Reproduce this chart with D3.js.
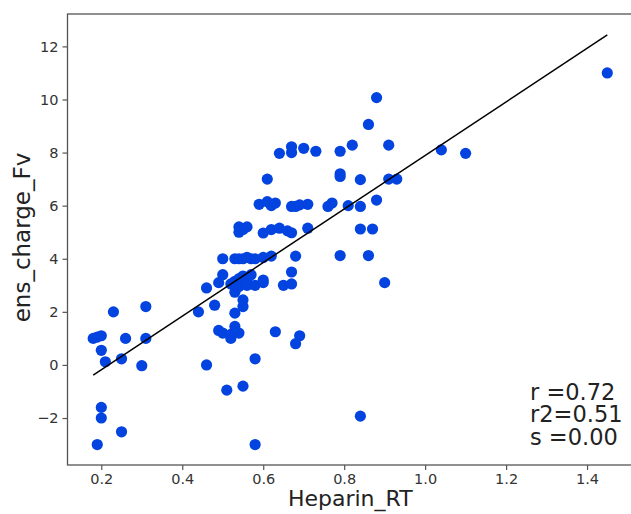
<!DOCTYPE html>
<html>
<head>
<meta charset="utf-8">
<script src="https://cdn.jsdelivr.net/npm/d3@7"></script>
<style>
  html, body { margin: 0; padding: 0; background: #fff; }
  svg { display: block; font-family: "DejaVu Sans", sans-serif; }
</style>
</head>
<body>
<svg id="chart" width="631" height="514"></svg>
<script>
// ---- data ----
const heparinRT = [
  0.18, 0.19, 0.20, 0.20, 0.21, 0.23, 0.25, 0.26, 0.30, 0.31, 0.31,
  0.20, 0.20, 0.25, 0.19,
  0.44, 0.46, 0.46, 0.48, 0.49, 0.50, 0.50, 0.49, 0.50, 0.52, 0.52, 0.53, 0.54,
  0.51, 0.55, 0.58, 0.58,
  0.53, 0.55, 0.55, 0.53, 0.52, 0.53, 0.54, 0.54, 0.55, 0.55, 0.56, 0.57, 0.56,
  0.53, 0.54, 0.55, 0.56, 0.57, 0.58, 0.60, 0.62,
  0.58, 0.60, 0.60,
  0.65, 0.67, 0.67, 0.68,
  0.63, 0.68, 0.69,
  0.54, 0.55, 0.56, 0.54,
  0.60, 0.62, 0.64, 0.66, 0.67, 0.71,
  0.59, 0.61, 0.62, 0.63, 0.67, 0.68, 0.69, 0.71,
  0.61,
  0.64, 0.67, 0.67, 0.70, 0.73,
  0.76, 0.77, 0.81, 0.84, 0.88,
  0.79, 0.82, 0.86, 0.88, 0.91,
  0.79, 0.79, 0.84, 0.91, 0.93,
  0.84, 0.87,
  0.79, 0.86,
  0.90,
  0.84,
  1.04, 1.10, 1.45
];
const ensChargeFv = [
  1.0, 1.05, 1.1, 0.55, 0.12, 2.0, 0.23, 1.0, -0.03, 1.0, 2.2,
  -1.6, -2.0, -2.52, -3.0,
  2.0, 0.0, 2.9, 2.25, 3.1, 3.4, 4.0, 1.3, 1.2, 1.0, 1.15, 1.45, 1.2,
  -0.95, -0.8, 0.23, -3.0,
  1.95, 2.2, 2.45, 2.74, 3.05, 3.15, 2.95, 3.25, 3.05, 3.35, 3.15, 3.4, 3.0,
  4.0, 4.0, 4.0, 4.05, 4.0, 4.0, 4.05, 4.1,
  3.0, 3.1, 3.2,
  3.0, 3.05, 3.5, 4.1,
  1.25, 0.8, 1.1,
  5.2, 5.1, 5.2, 5.0,
  4.97, 5.1, 5.15, 5.05, 4.98, 5.15,
  6.05, 6.15, 6.0, 6.1, 5.97, 5.97, 6.03, 6.05,
  7.0,
  7.97, 8.22, 8.0, 8.16, 8.05,
  5.97, 6.1, 6.0, 5.97, 6.21,
  8.05, 8.28, 9.06, 10.07, 8.28,
  7.2, 7.1, 6.98, 7.0, 7.0,
  5.12, 5.12,
  4.12, 4.12,
  3.1,
  -1.93,
  8.1, 7.97, 11.0
];
const fitX = [0.18, 1.45];
const fitY = [-0.38, 12.43];
const xTicks = [0.2, 0.4, 0.6, 0.8, 1.0, 1.2, 1.4];
const yTicks = [-2, 0, 2, 4, 6, 8, 10, 12];
const statLines = ["r =0.72", "r2=0.51", "s =0.00"];
const xLabel = "Heparin_RT";
const yLabel = "ens_charge_Fv";

// ---- drawing ----
(function () {
const svg = d3.select("#chart");
const mLeft = 67.5, mRight = 633, mTop = 14, mBottom = 465;
const x = d3.scaleLinear().domain([0.1165, 1.5135]).range([mLeft, mRight]);
const y = d3.scaleLinear().domain([-3.77, 13.22]).range([mBottom, mTop]);

const spineColor = "#555";
const tickColor = "#333";

const xAxis = d3.axisBottom(x).tickValues(xTicks).tickFormat(d3.format(".1f")).tickSize(5).tickPadding(4);
const yAxis = d3.axisLeft(y).tickValues(yTicks).tickFormat(d => d < 0 ? "\u2212" + Math.abs(d) : d).tickSize(5).tickPadding(4);

const gx = svg.append("g").attr("transform", `translate(0,${mBottom})`).call(xAxis);
const gy = svg.append("g").attr("transform", `translate(${mLeft},0)`).call(yAxis);
[gx, gy].forEach(g => {
  g.select(".domain").remove();
  g.selectAll(".tick line").attr("stroke", spineColor).attr("stroke-width", 1.2);
  g.selectAll(".tick text").attr("fill", tickColor).style("font-size", "14.5px").style("font-family", "DejaVu Sans, sans-serif");
});

svg.append("rect")
  .attr("x", mLeft).attr("y", mTop)
  .attr("width", mRight - mLeft).attr("height", mBottom - mTop)
  .attr("fill", "none").attr("stroke", spineColor).attr("stroke-width", 1.3);

const pts = heparinRT.map((v, i) => [v, ensChargeFv[i]]);
svg.append("g").selectAll("circle").data(pts).join("circle")
  .attr("cx", d => x(d[0])).attr("cy", d => y(d[1]))
  .attr("r", 5.6).attr("fill", "#0343df");

svg.append("path")
  .datum(fitX.map((v, i) => [v, fitY[i]]))
  .attr("d", d3.line().x(d => x(d[0])).y(d => y(d[1])))
  .attr("stroke", "#000").attr("stroke-width", 1.5).attr("fill", "none");

// stats block as one text with lines
const stats = svg.append("text")
  .attr("x", 530).attr("y", 400)
  .attr("fill", "#222").style("font-size", "22.5px");
stats.selectAll("tspan").data(statLines).join("tspan")
  .attr("x", 530).attr("dy", (d, i) => i === 0 ? 0 : 22.3)
  .text(d => d);

svg.append("text")
  .attr("x", (mLeft + mRight) / 2).attr("y", 506)
  .attr("text-anchor", "middle").attr("fill", "#222").style("font-size", "22px")
  .text(xLabel);
svg.append("text")
  .attr("transform", `translate(30,${(mTop + mBottom) / 2 - 2}) rotate(-90)`)
  .attr("text-anchor", "middle").attr("fill", "#222").style("font-size", "23px")
  .text(yLabel);
})();
</script>
</body>
</html>
